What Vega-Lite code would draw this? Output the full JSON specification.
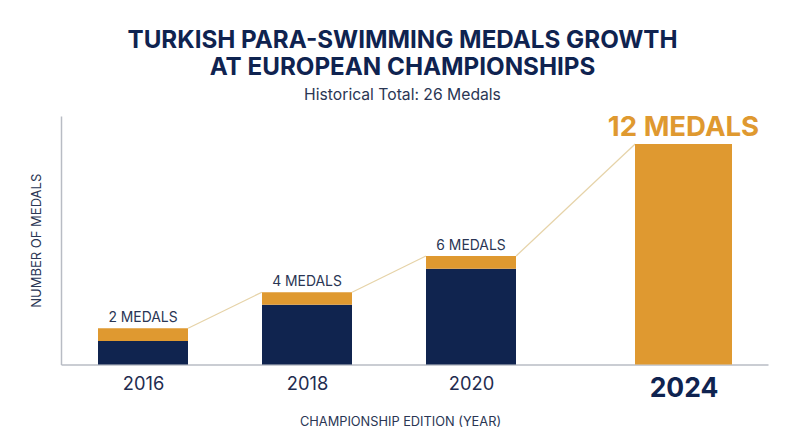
{
  "$schema": "https://vega.github.io/schema/vega-lite/v6.json",
  "autosize": {"type": "none"},
  "width": 707,
  "height": 248.5,
  "padding": {"left": 61, "top": 116, "right": 32, "bottom": 82.5},
  "background": "white",
  "title": {
    "text": ["TURKISH PARA-SWIMMING MEDALS GROWTH", "AT EUROPEAN CHAMPIONSHIPS"],
    "subtitle": "Historical Total: 26 Medals",
    "anchor": "middle",
    "frame": "group",
    "dx": -12,
    "offset": 11.5,
    "font": "Inter",
    "fontSize": 24.2,
    "fontWeight": 700,
    "lineHeight": 27,
    "color": "#0f2350",
    "subtitleFont": "Inter",
    "subtitleFontSize": 15.7,
    "subtitleFontWeight": 400,
    "subtitleColor": "#2a3654",
    "subtitlePadding": 8
  },
  "config": {"view": {"stroke": null}, "font": "Inter"},
  "datasets": {
    "bars": [
      {"year": 2016, "part": "navy", "medals": 1.3},
      {"year": 2016, "part": "gold", "medals": 0.7},
      {"year": 2018, "part": "navy", "medals": 3.3},
      {"year": 2018, "part": "gold", "medals": 0.7},
      {"year": 2020, "part": "navy", "medals": 5.3},
      {"year": 2020, "part": "gold", "medals": 0.7},
      {"year": 2024, "part": "gold", "medals": 12}
    ],
    "totals": [
      {"year": 2016, "total": 2, "label": "2 MEDALS"},
      {"year": 2018, "total": 4, "label": "4 MEDALS"},
      {"year": 2020, "total": 6, "label": "6 MEDALS"},
      {"year": 2024, "total": 12, "label": "12 MEDALS"}
    ],
    "links": [
      {"from_year": 2016.55, "to_year": 2017.45, "from_total": 2, "to_total": 4},
      {"from_year": 2018.55, "to_year": 2019.45, "from_total": 4, "to_total": 6},
      {"from_year": 2020.85, "to_year": 2023.09, "from_total": 6, "to_total": 12}
    ]
  },
  "layer": [
    {
      "data": {"name": "links"},
      "mark": {"type": "rule", "color": "#e6d3a8", "strokeWidth": 1.2},
      "encoding": {
        "x": {
          "field": "from_year",
          "type": "quantitative",
          "scale": {
            "domain": [2015, 2016, 2018, 2020, 2024, 2025],
            "range": [0, 82, 246, 410, 622.5, 707],
            "nice": false,
            "zero": false
          },
          "axis": {
            "values": [2016, 2018, 2020, 2024],
            "format": "d",
            "title": "CHAMPIONSHIP EDITION (YEAR)",
            "titleFont": "Inter",
            "titleFontSize": 12.8,
            "titleFontWeight": 400,
            "titleColor": "#2a3654",
            "titlePadding": 13,
            "titleX": 339,
            "grid": false,
            "ticks": false,
            "domainColor": "#b8bcc4",
            "domainWidth": 1.5,
            "labelFont": "Inter",
            "labelColor": {"expr": "datum.value == 2024 ? '#0f2350' : '#1f2c50'"},
            "labelFontSize": {"expr": "datum.value == 2024 ? 26.5 : 18.3"},
            "labelFontWeight": {"expr": "datum.value == 2024 ? 700 : 400"},
            "labelPadding": 11,
            "labelOverlap": false
          }
        },
        "x2": {"field": "to_year"},
        "y": {
          "field": "from_total",
          "type": "quantitative",
          "scale": {
            "domain": [0, 6, 12, 13.56],
            "range": [248.5, 140, 28, 0],
            "nice": false
          },
          "axis": {
            "title": "NUMBER OF MEDALS",
            "titleFont": "Inter",
            "titleFontSize": 13,
            "titleFontWeight": 400,
            "titleColor": "#2a3654",
            "titlePadding": 18,
            "labels": false,
            "ticks": false,
            "grid": false,
            "domainColor": "#b8bcc4",
            "domainWidth": 1.5
          }
        },
        "y2": {"field": "to_total"}
      }
    },
    {
      "data": {"name": "bars"},
      "transform": [{"filter": "datum.year != 2024"}],
      "mark": {"type": "bar", "size": 90, "orient": "vertical"},
      "encoding": {
        "x": {"field": "year", "type": "quantitative"},
        "y": {"field": "medals", "type": "quantitative", "stack": "zero"},
        "order": {"field": "part", "sort": "descending"},
        "color": {
          "field": "part",
          "type": "nominal",
          "scale": {"domain": ["navy", "gold"], "range": ["#10244f", "#df9930"]},
          "legend": null
        }
      }
    },
    {
      "data": {"name": "bars"},
      "transform": [{"filter": "datum.year == 2024"}],
      "mark": {"type": "bar", "size": 97, "orient": "vertical", "color": "#df9930"},
      "encoding": {
        "x": {"field": "year", "type": "quantitative"},
        "y": {"field": "medals", "type": "quantitative"}
      }
    },
    {
      "data": {"name": "totals"},
      "transform": [{"filter": "datum.year != 2024"}],
      "mark": {"type": "text", "baseline": "bottom", "dy": -3, "fontSize": 13.9, "color": "#2a3654", "font": "Inter"},
      "encoding": {
        "x": {"field": "year", "type": "quantitative"},
        "y": {"field": "total", "type": "quantitative"},
        "text": {"field": "label"}
      }
    },
    {
      "data": {"name": "totals"},
      "transform": [{"filter": "datum.year == 2024"}],
      "mark": {"type": "text", "baseline": "bottom", "dy": -2, "fontSize": 27.6, "fontWeight": 700, "color": "#df9930", "font": "Inter"},
      "encoding": {
        "x": {"field": "year", "type": "quantitative"},
        "y": {"field": "total", "type": "quantitative"},
        "text": {"field": "label"}
      }
    }
  ]
}
